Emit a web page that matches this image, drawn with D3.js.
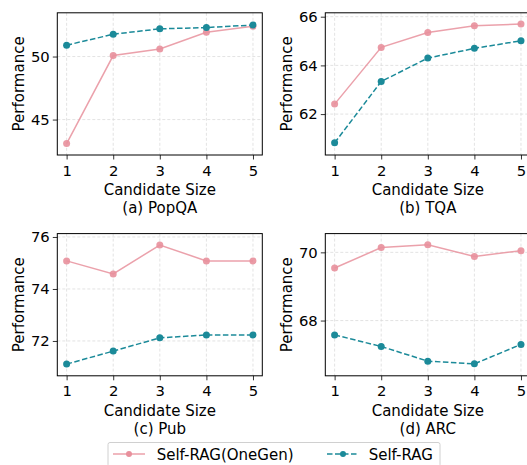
<!DOCTYPE html>
<html>
<head>
<meta charset="utf-8">
<script src="https://cdn.jsdelivr.net/npm/d3@7"></script>
<style>
body { margin: 0; background: #fff; }
text { font-family: "DejaVu Sans", sans-serif; fill: #000; }
</style>
</head>
<body>
<script>
// candidate sizes on the x axis
var sizes = [1, 2, 3, 4, 5];

var popqaOneGen = [43.1, 50.08, 50.6, 51.93, 52.4];
var popqaSelfRag = [50.9, 51.77, 52.2, 52.3, 52.5];
var tqaOneGen = [62.41, 64.74, 65.35, 65.63, 65.7];
var tqaSelfRag = [60.82, 63.34, 64.3, 64.7, 65.01];
var pubOneGen = [75.08, 74.58, 75.69, 75.08, 75.08];
var pubSelfRag = [71.11, 71.61, 72.12, 72.23, 72.23];
var arcOneGen = [69.54, 70.14, 70.22, 69.88, 70.05];
var arcSelfRag = [67.58, 67.24, 66.81, 66.73, 67.3];

var titles = ["(a) PopQA", "(b) TQA", "(c) Pub", "(d) ARC"];
var yTicks = [[45, 50], [62, 64, 66], [72, 74, 76], [68, 70]];
var seriesNames = ["Self-RAG(OneGen)", "Self-RAG"];

var pink = "#e8909c", teal = "#1b8a99";

var panels = [
  { one: popqaOneGen, self: popqaSelfRag, yd: [42.19, 53.47], x0: 57.3, y0: 12.8 },
  { one: tqaOneGen, self: tqaSelfRag, yd: [60.32, 66.16], x0: 325.3, y0: 12.8 },
  { one: pubOneGen, self: pubSelfRag, yd: [70.66, 76.13], x0: 57.3, y0: 233.6 },
  { one: arcOneGen, self: arcSelfRag, yd: [66.38, 70.55], x0: 325.3, y0: 233.6 }
];
var pw = 205, ph = 142.2;

var svg = d3.select("body").append("svg")
  .attr("width", 527).attr("height", 465);

panels.forEach(function(p, i) {
  var g = svg.append("g").attr("transform", "translate(" + p.x0 + "," + p.y0 + ")");
  var x = d3.scaleLinear().domain([0.8, 5.2]).range([0, pw]);
  var y = d3.scaleLinear().domain(p.yd).range([ph, 0]);

  // grid
  g.selectAll(".gx").data(sizes).enter().append("line")
    .attr("x1", d => x(d)).attr("x2", d => x(d))
    .attr("y1", 0).attr("y2", ph)
    .attr("stroke", "#dcdcdc").attr("stroke-width", 0.8).attr("stroke-dasharray", "3,2");
  g.selectAll(".gy").data(yTicks[i]).enter().append("line")
    .attr("x1", 0).attr("x2", pw)
    .attr("y1", d => y(d)).attr("y2", d => y(d))
    .attr("stroke", "#dcdcdc").attr("stroke-width", 0.8).attr("stroke-dasharray", "3,2");

  var xa = g.append("g").attr("transform", "translate(0," + ph + ")")
    .call(d3.axisBottom(x).tickValues(sizes).tickFormat(d3.format("d")).tickSize(4.5).tickPadding(5.5));
  var ya = g.append("g")
    .call(d3.axisLeft(y).tickValues(yTicks[i]).tickFormat(d3.format("d")).tickSize(4.5).tickPadding(3));
  [xa, ya].forEach(function(a) {
    a.select(".domain").remove();
    a.selectAll("text").style("font-size", "14.8px").style("font-family", "DejaVu Sans");
    a.selectAll("line").attr("stroke", "#000").attr("stroke-width", 0.8);
  });

  g.append("rect").attr("width", pw).attr("height", ph)
    .attr("fill", "none").attr("stroke", "#000").attr("stroke-width", 1);

  var line = d3.line().x((d, j) => x(sizes[j])).y(d => y(d));
  g.append("path").datum(p.one).attr("d", line)
    .attr("fill", "none").attr("stroke", pink).attr("stroke-width", 1.5).attr("opacity", 0.85);
  g.selectAll(".m1").data(p.one).enter().append("circle")
    .attr("cx", (d, j) => x(sizes[j])).attr("cy", d => y(d)).attr("r", 3.5)
    .attr("fill", pink).attr("opacity", 0.9);
  g.append("path").datum(p.self).attr("d", line)
    .attr("fill", "none").attr("stroke", teal).attr("stroke-width", 1.5).attr("stroke-dasharray", "5.5,2.5");
  g.selectAll(".m2").data(p.self).enter().append("circle")
    .attr("cx", (d, j) => x(sizes[j])).attr("cy", d => y(d)).attr("r", 3.5)
    .attr("fill", teal);

  g.append("text").attr("x", pw / 2).attr("y", ph + 40)
    .attr("text-anchor", "middle").style("font-size", "15px").text("Candidate Size");
  g.append("text").attr("x", pw / 2).attr("y", ph + 58.3)
    .attr("text-anchor", "middle").style("font-size", "15px").text(titles[i]);
  g.append("text").attr("transform", "translate(" + (-33.5) + "," + (ph / 2) + ") rotate(-90)")
    .attr("text-anchor", "middle").style("font-size", "15px").text("Performance");
});

// legend
var lg = svg.append("g").attr("transform", "translate(108,442.5)");
lg.append("rect").attr("width", 332).attr("height", 24).attr("rx", 2)
  .attr("fill", "#fff").attr("stroke", "#d0d0d0").attr("stroke-width", 1);
var entries = [
  { name: seriesNames[0], c: pink, dash: null, lx: 5, tx: 48.7 },
  { name: seriesNames[1], c: teal, dash: "5.5,2.5", lx: 219, tx: 260.7 }
];
entries.forEach(function(e) {
  lg.append("line").attr("x1", e.lx).attr("x2", e.lx + 32).attr("y1", 11.5).attr("y2", 11.5)
    .attr("stroke", e.c).attr("stroke-width", 1.5).attr("stroke-dasharray", e.dash)
    .attr("opacity", e.dash ? 1 : 0.85);
  lg.append("circle").attr("cx", e.lx + 16).attr("cy", 11.5).attr("r", 3).attr("fill", e.c);
  lg.append("text").attr("x", e.tx).attr("y", 17).style("font-size", "15px").text(e.name);
});
</script>
</body>
</html>
